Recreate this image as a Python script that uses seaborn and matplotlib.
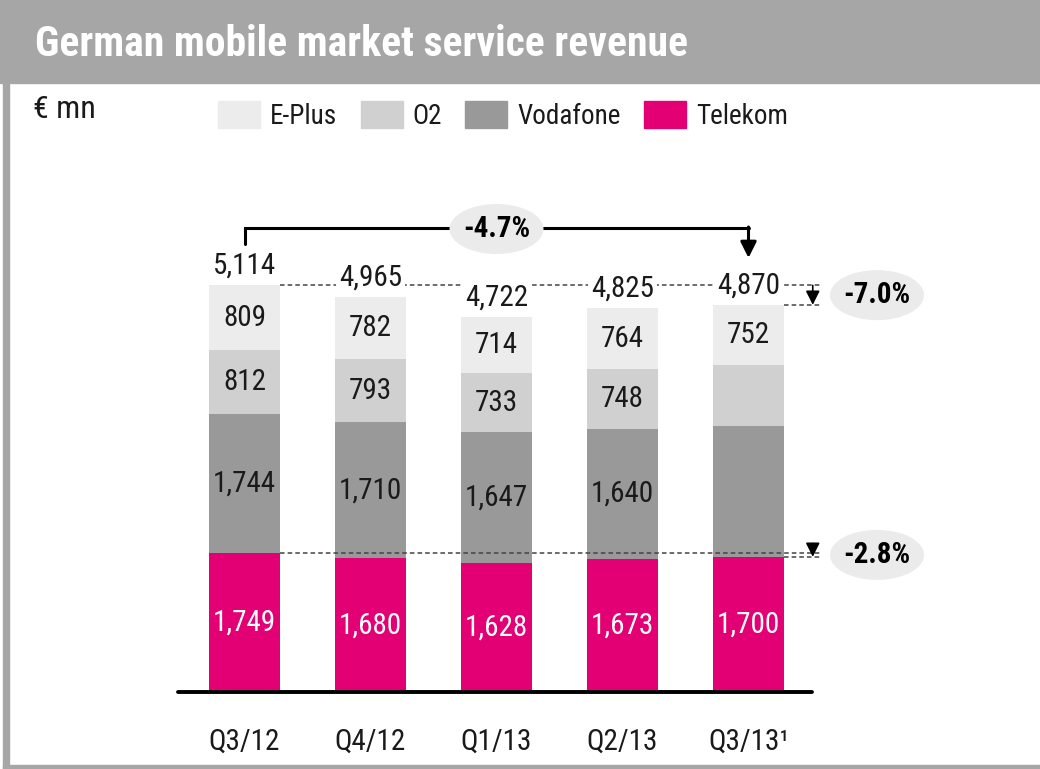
"""German mobile market service revenue - stacked bars by operator."""

import matplotlib
matplotlib.use("Agg")

import matplotlib.pyplot as plt
import matplotlib.patches as mpatches
import seaborn as sns
import numpy as np

# ── Data (EUR mn) ────────────────────────────────────────────────────────────
quarters = ["Q3/12", "Q4/12", "Q1/13", "Q2/13", "Q3/13¹"]
telekom = [1749, 1680, 1628, 1673, 1700]
vodafone = [1744, 1710, 1647, 1640, 1650]
o2 = [812, 793, 733, 748, 768]
eplus = [809, 782, 714, 764, 752]
totals = [5114, 4965, 4722, 4825, 4870]
# Q3/13 split of Vodafone / O2 was not published
vodafone_labels = ["1,744", "1,710", "1,647", "1,640", ""]
o2_labels = ["812", "793", "733", "748", ""]
change_total = "-4.7%"
change_market = "-7.0%"
change_telekom = "-2.8%"

# ── Style ────────────────────────────────────────────────────────────────────
sns.set_theme(style="white")
plt.rcParams["font.family"] = ["Roboto Condensed", "Roboto", "DejaVu Sans"]

C_EPLUS = "#ececec"
C_O2 = "#d0d0d0"
C_VODA = "#999999"
C_TELEKOM = "#e20074"
C_FRAME = "#a6a6a6"
C_TEXT = "#1a1a1a"
C_BUBBLE = "#ebebeb"
BAR_W = 0.563
PX_X = 126.0     # pixels per category step
PX_Y = 0.0795    # pixels per EUR mn

W, H = 1040, 769
fig = plt.figure(figsize=(W / 100, H / 100), dpi=100)

# frame: title band, left and bottom border
fig.patches.append(mpatches.Rectangle((0, 1 - 83 / H), 1, 83 / H, transform=fig.transFigure,
                                      color=C_FRAME, zorder=0))
fig.patches.append(mpatches.Rectangle((3 / W, 0), 6 / W, 1, transform=fig.transFigure,
                                      color=C_FRAME, zorder=0))
fig.patches.append(mpatches.Rectangle((3 / W, 0), 1, 4 / H, transform=fig.transFigure,
                                      color=C_FRAME, zorder=0))
fig.text(35 / W, 1 - 45 / H, "German mobile market service revenue", color="white",
         fontsize=30, fontweight="bold", va="center", ha="left")
fig.text(33 / W, 1 - 110 / H, "€ mn", color=C_TEXT, fontsize=23, va="center", ha="left")

# axes placed so that the baseline sits at the reference pixel row
x_lo, x_hi = 170, 950
y_base, y_top = 692, 150
ax = fig.add_axes([x_lo / W, 1 - y_base / H, (x_hi - x_lo) / W, (y_base - y_top) / H])
ax.set_facecolor("none")

# stacked bars drawn as overlapping cumulative layers (tallest first)
cum_telekom = np.array(telekom)
cum_voda = cum_telekom + np.array(vodafone)
cum_o2 = cum_voda + np.array(o2)
cum_eplus = cum_o2 + np.array(eplus)
for heights, color in [(cum_eplus, C_EPLUS), (cum_o2, C_O2),
                       (cum_voda, C_VODA), (cum_telekom, C_TELEKOM)]:
    sns.barplot(x=quarters, y=heights, color=color, saturation=1, width=BAR_W,
                linewidth=0, ax=ax, zorder=2)

ax.set_xlim((x_lo - 244.5) / PX_X, (x_hi - 244.5) / PX_X)
ax.set_ylim(0, (y_base - y_top) / PX_Y)
for s in ax.spines.values():
    s.set_visible(False)
ax.set_yticks([])
ax.tick_params(axis="x", length=0, pad=26, labelsize=21, labelcolor=C_TEXT)
ax.set_xlabel("")
ax.set_ylabel("")
ax.grid(False)

# baseline
ax.plot([-0.53, 4.5], [0, 0], color="black", lw=2.8, solid_capstyle="round",
        zorder=5, clip_on=False)

# segment labels
xs = np.arange(len(quarters))
lab_kw = dict(ha="center", va="center", fontsize=21, zorder=6)
for i in xs:
    ax.text(i, telekom[i] / 2, f"{telekom[i]:,}", color="white", **lab_kw)
    if vodafone_labels[i]:
        ax.text(i, cum_telekom[i] + vodafone[i] / 2, vodafone_labels[i], color=C_TEXT, **lab_kw)
    if o2_labels[i]:
        ax.text(i, cum_voda[i] + o2[i] / 2, o2_labels[i], color=C_TEXT, **lab_kw)
    ax.text(i, cum_o2[i] + eplus[i] / 2, f"{eplus[i]:,}", color=C_TEXT, **lab_kw)
    ax.annotate(f"{totals[i]:,}", (i, totals[i]), xytext=(0, 14), textcoords="offset points",
                ha="center", va="center", fontsize=21, color=C_TEXT, zorder=6,
                bbox=dict(boxstyle="square,pad=0.1", fc="white", ec="none"))

# dashed reference lines and change arrows
x_end = 4.57
x_arrow = 4.51
dash_kw = dict(color="#444444", lw=1.1, ls=(0, (3, 2)), zorder=4, clip_on=False)
ax.plot([BAR_W / 2, x_end], [totals[0], totals[0]], **dash_kw)
ax.plot([4 + BAR_W / 2, x_end], [totals[4], totals[4]], **dash_kw)
ax.plot([BAR_W / 2, x_end], [telekom[0], telekom[0]], **dash_kw)
ax.plot([4 + BAR_W / 2, x_end], [telekom[4], telekom[4]], **dash_kw)

arrow_kw = dict(arrowstyle="-|>,head_length=0.7,head_width=0.35", color="black", lw=1.2,
                shrinkA=0, shrinkB=0)
ax.annotate("", xy=(x_arrow, totals[4]), xytext=(x_arrow, totals[0]), arrowprops=arrow_kw,
            zorder=7)
ax.annotate("", xy=(x_arrow, telekom[4]), xytext=(x_arrow, telekom[0] + 120),
            arrowprops=arrow_kw, zorder=7)


def bubble(x, y, text):
    """Grey ellipse with a bold change figure (94 x 50 px)."""
    ax.add_patch(mpatches.Ellipse((x, y), 94 / PX_X, 50 / PX_Y, fc=C_BUBBLE, ec="none",
                                  zorder=7, clip_on=False))
    ax.text(x, y, text, ha="center", va="center", fontsize=21, fontweight="bold",
            color="black", zorder=8)


bubble(5.02, (totals[0] + totals[4]) / 2, change_market)
bubble(5.02, (telekom[0] + telekom[4]) / 2, change_telekom)

# bracket Q3/12 -> Q3/13
y_br = totals[0] + 720
ax.plot([0, 0, 4], [totals[0] + 520, y_br, y_br], color="black", lw=2.2, zorder=6,
        clip_on=False, solid_joinstyle="miter")
ax.annotate("", xy=(4, totals[4] + 590), xytext=(4, y_br + 15),
            arrowprops=dict(arrowstyle="-|>,head_length=0.8,head_width=0.4", color="black",
                            lw=2.2, shrinkA=0, shrinkB=0), zorder=6)
bubble(2, y_br - 10, change_total)

# legend
handles = [mpatches.Patch(color=c, label=l) for c, l in
           [(C_EPLUS, "E-Plus"), (C_O2, "O2"), (C_VODA, "Vodafone"), (C_TELEKOM, "Telekom")]]
fig.legend(handles=handles, loc="upper left", bbox_to_anchor=(218 / W, 1 - 101 / H),
           ncol=4, frameon=False, fontsize=19.5, handlelength=1.55, handleheight=1.15,
           handletextpad=0.38, columnspacing=0.85, borderpad=0, borderaxespad=0,
           labelcolor=C_TEXT)

fig.savefig("out.png", dpi=100)
